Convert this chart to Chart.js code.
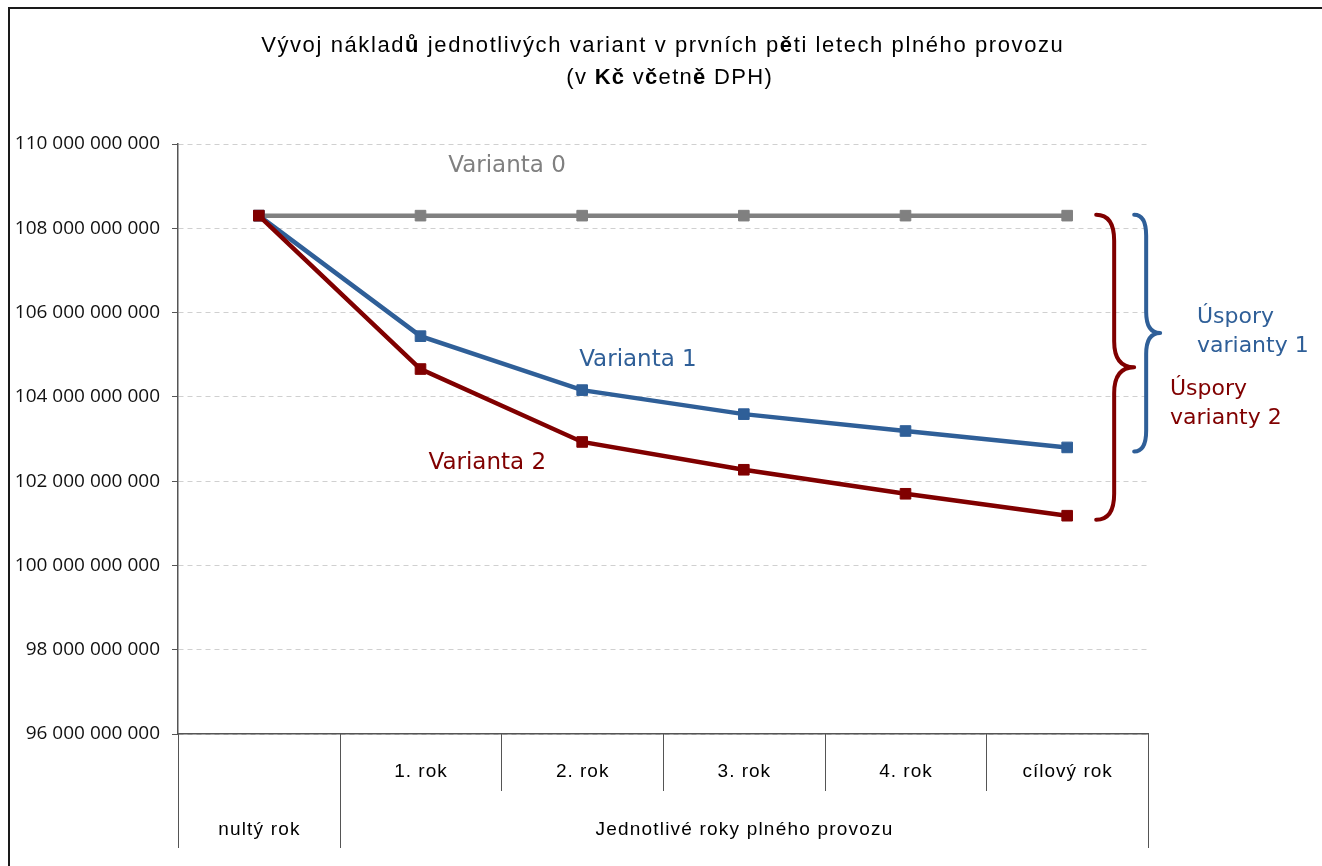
<!DOCTYPE html>
<html lang="cs">
<head>
  <meta charset="UTF-8">
  <title>Vývoj nákladů jednotlivých variant</title>
  <script src="https://cdn.jsdelivr.net/npm/chart.js"></script>
  <style>
    html, body { margin: 0; padding: 0; background: #fff; }
    canvas { display: block; }
  </style>
</head>
<body>
  <canvas id="chart" width="1322" height="866"></canvas>
  <script>
    // --- data ---
    const categories = ['', '1. rok', '2. rok', '3. rok', '4. rok', 'cílový rok'];
    const groupLabels = ['nultý rok', 'Jednotlivé roky plného provozu'];
    const groupSpans = [[0, 0], [1, 5]]; // first and last category of each group

    const varianta0 = [108300000000, 108300000000, 108300000000, 108300000000, 108300000000, 108300000000];
    const varianta1 = [108300000000, 105440000000, 104160000000, 103590000000, 103190000000, 102800000000];
    const varianta2 = [108300000000, 104660000000, 102930000000, 102270000000, 101700000000, 101180000000];

    const yTicks = { min: 96000000000, max: 110000000000, step: 2000000000 };

    const titleLines = ['Vývoj nákladů jednotlivých variant v prvních pěti letech plného provozu', '(v Kč včetně DPH)'];
    const boldChars = 'ůěčK'; // glyphs that came out bold in the original

    const GRAY = '#808080';
    const BLUE = '#2f5f98';
    const RED = '#800000';

    // text labels placed in data coordinates (category index, value)
    const notes = [
      { text: 'Varianta 0', color: GRAY, at: [1.535, 109480000000], align: 'center', size: 23 },
      { text: 'Varianta 1', color: BLUE, at: [2.345, 104880000000], align: 'center', size: 23 },
      { text: 'Varianta 2', color: RED, at: [1.413, 102430000000], align: 'center', size: 23 },
      { text: 'Úspory', color: BLUE, at: [5.803, 105900000000], align: 'left', size: 22 },
      { text: 'varianty 1', color: BLUE, at: [5.803, 105210000000], align: 'left', size: 22 },
      { text: 'Úspory', color: RED, at: [5.636, 104190000000], align: 'left', size: 22 },
      { text: 'varianty 2', color: RED, at: [5.636, 103480000000], align: 'left', size: 22 },
    ];

    // curly braces from Varianta 0 down to the final value of each variant
    const braces = [
      { color: RED, from: varianta0, to: varianta2, end: 29, spine: 47, tip: 67, r: 26 },
      { color: BLUE, from: varianta0, to: varianta1, end: 67, spine: 79, tip: 93, r: 21 },
    ];

    const fmt = v => String(Math.round(v)).replace(/\B(?=(\d{3})+(?!\d))/g, ' ');

    const SANS = '"Liberation Sans", Arial, sans-serif';

    // draw text one glyph at a time, with extra spacing and optional bold glyphs
    const drawSpaced = (ctx, text, cx, cy, size, family, spacing, bold) => {
      const fontFor = ch => (bold && bold.includes(ch) ? 'bold ' : '') + size + 'px ' + family;
      let total = 0;
      const widths = [];
      for (const ch of text) {
        ctx.font = fontFor(ch);
        const w = ctx.measureText(ch).width;
        widths.push(w);
        total += w;
      }
      total += spacing * (widths.length - 1);
      let xPos = cx - total / 2;
      let i = 0;
      ctx.textAlign = 'left';
      ctx.textBaseline = 'middle';
      for (const ch of text) {
        ctx.font = fontFor(ch);
        ctx.fillText(ch, xPos, cy);
        xPos += widths[i++] + spacing;
      }
    };

    const extras = {
      id: 'extras',
      afterDraw(chart) {
        const { ctx, chartArea: area, scales: { x, y } } = chart;
        ctx.save();

        // outer frame of the chart area
        ctx.strokeStyle = '#1a1a1a';
        ctx.lineWidth = 2;
        ctx.beginPath();
        ctx.moveTo(9, 866);
        ctx.lineTo(9, 8);
        ctx.lineTo(1322, 8);
        ctx.stroke();

        // title
        ctx.fillStyle = '#000';
        drawSpaced(ctx, titleLines[0], 662, 46, 22, SANS, 1.6, boldChars);
        drawSpaced(ctx, titleLines[1], 669, 78, 22, SANS, 1.3, boldChars);

        // category table under the axis
        const edge = i => x.getPixelForValue(i - 0.5);
        const groupStarts = groupSpans.map(s => s[0]);
        ctx.strokeStyle = '#555';
        ctx.lineWidth = 1;
        for (let i = 0; i <= categories.length; i++) {
          const px = Math.round(edge(i)) + 0.5;
          const long = groupStarts.includes(i) || i === categories.length;
          ctx.beginPath();
          ctx.moveTo(px, area.bottom);
          ctx.lineTo(px, area.bottom + (long ? 114 : 57));
          ctx.stroke();
        }

        ctx.fillStyle = '#000';
        categories.forEach((label, i) => {
          if (label) drawSpaced(ctx, label, x.getPixelForValue(i), area.bottom + 38, 19, SANS, 1);
        });
        groupLabels.forEach((label, g) => {
          const [a, b] = groupSpans[g];
          const cx = (edge(a) + edge(b + 1)) / 2;
          drawSpaced(ctx, label, cx, area.bottom + 96, 19, SANS, 1.2);
        });

        // series labels
        ctx.textBaseline = 'middle';
        notes.forEach(n => {
          ctx.font = n.size + 'px "DejaVu Sans", Verdana, sans-serif';
          ctx.fillStyle = n.color;
          ctx.textAlign = n.align;
          ctx.fillText(n.text, x.getPixelForValue(n.at[0]), y.getPixelForValue(n.at[1]));
        });

        // braces
        const last = categories.length - 1;
        const xLast = x.getPixelForValue(last);
        braces.forEach(b => {
          const top = y.getPixelForValue(b.from[last]) - 1;
          const bot = y.getPixelForValue(b.to[last]) + 4;
          const mid = (top + bot) / 2;
          const x0 = xLast + b.end, xs = xLast + b.spine, xt = xLast + b.tip, r = b.r;
          ctx.strokeStyle = b.color;
          ctx.lineWidth = 4;
          ctx.lineCap = 'round';
          ctx.lineJoin = 'round';
          ctx.beginPath();
          ctx.moveTo(x0, top);
          ctx.quadraticCurveTo(xs, top, xs, top + r);
          ctx.lineTo(xs, mid - r);
          ctx.quadraticCurveTo(xs, mid, xt, mid);
          ctx.quadraticCurveTo(xs, mid, xs, mid + r);
          ctx.lineTo(xs, bot - r);
          ctx.quadraticCurveTo(xs, bot, x0, bot);
          ctx.stroke();
        });

        ctx.restore();
      }
    };

    const series = (label, data, color, order) => ({
      label,
      data,
      order,
      borderColor: color,
      backgroundColor: color,
      borderWidth: 4.5,
      pointStyle: 'rect',
      pointRadius: 7.5,
      pointBorderWidth: 1,
      pointBorderColor: color,
      pointBackgroundColor: color,
      tension: 0,
    });

    new Chart(document.getElementById('chart').getContext('2d'), {
      type: 'line',
      data: {
        labels: categories,
        datasets: [
          series('Varianta 0', varianta0, GRAY, 2),
          series('Varianta 1', varianta1, BLUE, 1),
          series('Varianta 2', varianta2, RED, 0),
        ],
      },
      options: {
        responsive: false,
        animation: false,
        layout: { padding: { top: 144, right: 174, bottom: 0, left: 0 } },
        plugins: {
          legend: { display: false },
          title: { display: false },
          tooltip: { enabled: false },
        },
        scales: {
          x: {
            offset: true,
            grid: { display: false },
            border: { display: true, color: '#555', width: 1.5 },
            ticks: { display: false },
            afterFit: s => { s.height = 132; },
          },
          y: {
            min: yTicks.min,
            max: yTicks.max,
            grid: { color: '#d0d0d0', lineWidth: 1, tickColor: '#555', tickLength: 6, tickBorderDash: [] },
            border: { display: true, color: '#555', width: 1.5, dash: [5, 4] },
            ticks: {
              stepSize: yTicks.step,
              padding: 12,
              color: '#111',
              font: { family: '"Open Sans", "Segoe UI", sans-serif', size: 19 },
              callback: v => fmt(v),
            },
            afterFit: s => { s.width = 178; },
          },
        },
      },
      plugins: [extras],
    });
  </script>
</body>
</html>
